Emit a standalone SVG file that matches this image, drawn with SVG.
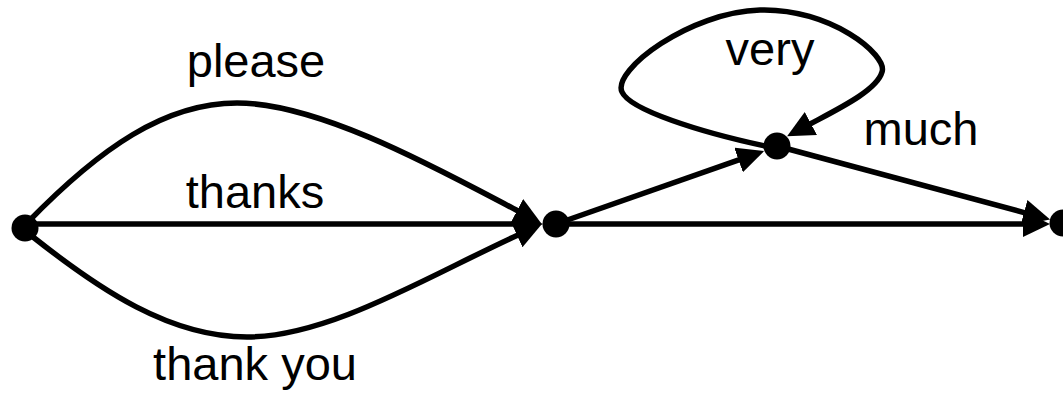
<svg xmlns="http://www.w3.org/2000/svg" width="1063" height="396" viewBox="0 0 1063 396">
<style>
.edge{fill:none;stroke:#000;stroke-width:5.5;marker-end:url(#arr)}
.node{fill:#000}
.lbl{font-family:"Liberation Sans",Arial,sans-serif;font-size:47px;fill:#000;text-anchor:middle}
</style>
<defs>
<marker id="arr" viewBox="0 0 27 26" refX="1" refY="13" markerWidth="27" markerHeight="26" markerUnits="userSpaceOnUse" orient="auto">
<path d="M0,0 L27,13 L0,26 z" fill="#000"/>
</marker>
</defs>
<rect width="1063" height="396" fill="#fff"/>
<g id="connectors">
<path class="edge" d="M28,222 C100,148 165,103 237,103 C320,103 440,170 518,211"/>
<path class="edge" d="M25,224 L517,224"/>
<path class="edge" d="M33,237 C100,290 170,337 247,337 C330,337 430,275 518,235"/>
<path class="edge" d="M556,224 L739.5,159.7"/>
<path class="edge" d="M765,146 C700,132 630,110 622,92 C612,70 690,12 760,10 C830,8 888,55 882,72 C877,90 840,108 810,124"/>
<path class="edge" d="M777,146 L1025,212.8"/>
<path class="edge" d="M556,224 L1024,224"/>
<text class="lbl" x="256" y="77">please</text>
<text class="lbl" x="255" y="208">thanks</text>
<text class="lbl" x="255" y="380">thank you</text>
<text class="lbl" x="770" y="65">very</text>
<text class="lbl" x="921" y="145">much</text>
</g>
<g id="n0"><circle class="node" cx="25" cy="228" r="13.5"/></g>
<g id="n1"><circle class="node" cx="556" cy="224" r="13.5"/></g>
<g id="n2"><circle class="node" cx="777" cy="146" r="13.5"/></g>
<g id="n3"><circle class="node" cx="1063" cy="223" r="13.5"/></g>
</svg>
